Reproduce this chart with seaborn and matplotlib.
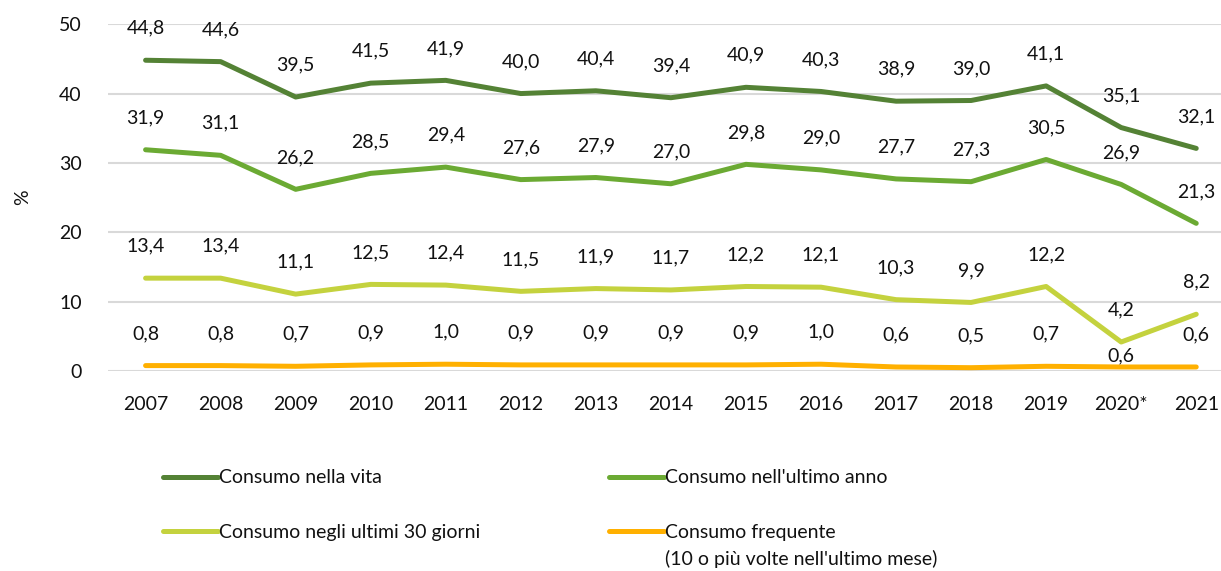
import pandas as pd
import seaborn as sns
import matplotlib.pyplot as plt

# data
years = ['2007', '2008', '2009', '2010', '2011', '2012', '2013', '2014',
         '2015', '2016', '2017', '2018', '2019', '2020*', '2021']
vita = [44.8, 44.6, 39.5, 41.5, 41.9, 40.0, 40.4, 39.4, 40.9, 40.3, 38.9, 39.0, 41.1, 35.1, 32.1]
anno = [31.9, 31.1, 26.2, 28.5, 29.4, 27.6, 27.9, 27.0, 29.8, 29.0, 27.7, 27.3, 30.5, 26.9, 21.3]
giorni30 = [13.4, 13.4, 11.1, 12.5, 12.4, 11.5, 11.9, 11.7, 12.2, 12.1, 10.3, 9.9, 12.2, 4.2, 8.2]
frequente = [0.8, 0.8, 0.7, 0.9, 1.0, 0.9, 0.9, 0.9, 0.9, 1.0, 0.6, 0.5, 0.7, 0.6, 0.6]

series = ['Consumo nella vita', "Consumo nell'ultimo anno",
          'Consumo negli ultimi 30 giorni', 'Consumo frequente']
nota_frequente = "(10 o più volte nell'ultimo mese)"
colors = ['#548235', '#6BAA33', '#C4D23E', '#FFB000']

df = pd.DataFrame({'anno': years * 4,
                   'valore': vita + anno + giorni30 + frequente,
                   'serie': [s for s in series for _ in years]})

sns.set_style('white')
plt.rcParams['font.family'] = ['Lato', 'DejaVu Sans']
FS = 14
plt.rcParams['font.size'] = FS

fig = plt.figure(figsize=(12.21, 5.71), dpi=100)
ax = fig.add_axes([0.0885, 0.350, 0.9115, 0.6077])

sns.lineplot(data=df, x='anno', y='valore', hue='serie', hue_order=series,
             palette=colors, linewidth=3.6, sort=False, ax=ax, legend=False)
for ln in ax.lines:
    ln.set_solid_capstyle('round')

# data labels
for vals in [vita, anno, giorni30, frequente]:
    for i, v in enumerate(vals):
        dy = 23
        if vals is frequente and years[i] == '2020*':
            dy = 8
        ax.annotate(f'{v:.1f}'.replace('.', ','), (i, v), xytext=(0, dy),
                    textcoords='offset points', ha='center', va='center',
                    fontsize=FS, color='#111111')

ax.set_ylim(0, 50)
ax.set_xlim(-0.5, 14.33)
ax.set_yticks(range(0, 51, 10))
ax.grid(axis='y', color='#d9d9d9', linewidth=1.5)
ax.set_axisbelow(True)
sns.despine(ax=ax, left=True, bottom=True)
ax.tick_params(axis='both', length=0, labelsize=FS, colors='#111111')
ax.tick_params(axis='x', pad=18)
ax.tick_params(axis='y', pad=19)
ax.set_xlabel('')
ax.set_ylabel('%', fontsize=FS, labelpad=20, color='#111111')

# legend filled row by row like the original
order = [0, 2, 1, 3]
handles = [plt.Line2D([], [], color=colors[k], linewidth=3.6, solid_capstyle='round') for k in order]
leg = fig.legend(handles, [series[k] for k in order], loc='upper left',
                 bbox_to_anchor=(0.1335, 0.178), ncol=2, frameon=False,
                 borderpad=0, borderaxespad=0, handlelength=2.85, handletextpad=0.05,
                 columnspacing=6.6, labelspacing=1.95, fontsize=FS)
for t in leg.get_texts():
    t.set_color('#111111')

fig.canvas.draw()
bb = leg.get_texts()[3].get_window_extent().transformed(fig.transFigure.inverted())
fig.text(bb.x0, bb.y0 - 0.016, nota_frequente, fontsize=FS, color='#111111',
         ha='left', va='top')

fig.savefig('out.png', dpi=100)
